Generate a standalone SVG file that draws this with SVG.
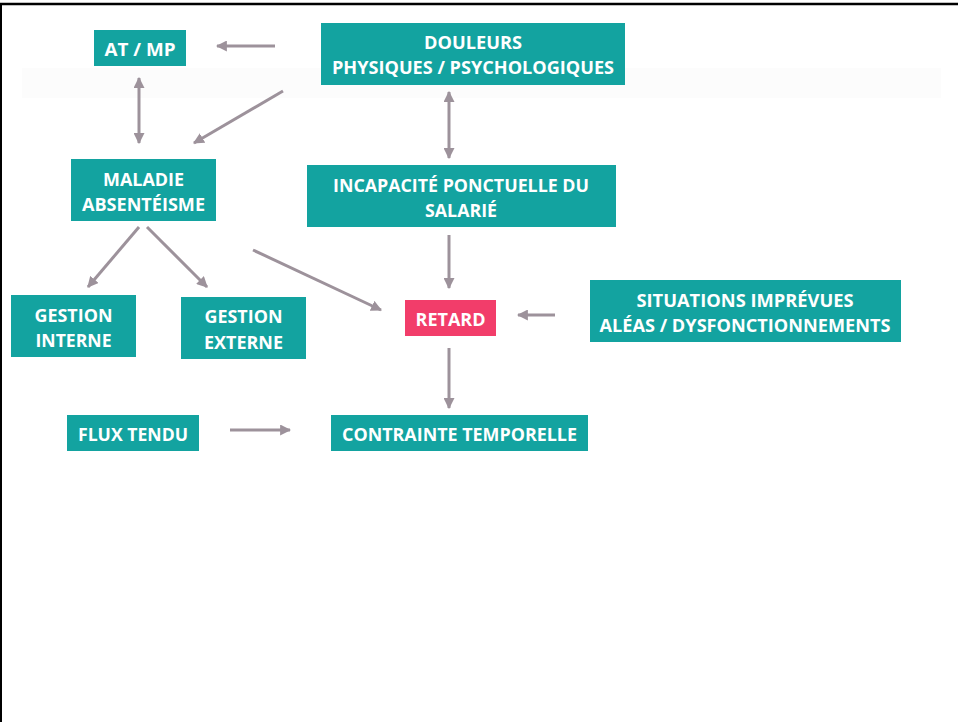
<svg xmlns="http://www.w3.org/2000/svg" width="958" height="722" viewBox="0 0 958 722">
  <style>
    .box { fill: #13a3a0; }
    .hot { fill: #f23d6a; }
    .lbl { font-family: "Open Sans", "Liberation Sans", sans-serif; font-weight: bold; font-size: 18px; fill: #ffffff; text-anchor: middle; }
    .link { stroke: #9d929b; stroke-width: 3; fill: none; marker-end: url(#tip); }
    .both { marker-start: url(#tipStart); }
  </style>
  <defs>
    <marker id="tip" viewBox="0 0 10 10" refX="9" refY="5" markerUnits="userSpaceOnUse" markerWidth="11" markerHeight="11" orient="auto">
      <path d="M0,0 L10,5 L0,10 z" fill="#9d929b"/>
    </marker>
    <marker id="tipStart" viewBox="0 0 10 10" refX="1" refY="5" markerUnits="userSpaceOnUse" markerWidth="11" markerHeight="11" orient="auto">
      <path d="M10,0 L0,5 L10,10 z" fill="#9d929b"/>
    </marker>
  </defs>

  <rect width="958" height="722" fill="#ffffff"/>
  <!-- frame edges -->
  <line x1="0" y1="4" x2="958" y2="4" stroke="#000" stroke-width="2.5"/>
  <line x1="1" y1="3" x2="1" y2="722" stroke="#000" stroke-width="2"/>
  <!-- faint band behind the top row -->
  <rect x="22" y="68" width="919" height="30" fill="#fcfcfc"/>

  <g id="connectors">
    <line class="link" x1="275" y1="46" x2="217" y2="46"/>
    <line class="link" x1="283" y1="91" x2="194" y2="143"/>
    <line class="link both" x1="139" y1="78" x2="139" y2="143"/>
    <line class="link both" x1="449" y1="92" x2="449" y2="158"/>
    <line class="link" x1="139" y1="227" x2="88" y2="287"/>
    <line class="link" x1="147" y1="227" x2="207" y2="287"/>
    <line class="link" x1="253" y1="250" x2="381" y2="310"/>
    <line class="link" x1="449" y1="235" x2="449" y2="288"/>
    <line class="link" x1="449" y1="348" x2="449" y2="408"/>
    <line class="link" x1="555" y1="315" x2="518" y2="315"/>
    <line class="link" x1="230" y1="430" x2="290" y2="430"/>
  </g>

  <g id="at-mp">
    <rect class="box" x="94" y="30" width="92" height="36"/>
    <text class="lbl" x="140" y="56" textLength="71" lengthAdjust="spacingAndGlyphs">AT / MP</text>
  </g>
  <g id="douleurs">
    <rect class="box" x="321" y="23" width="304" height="62"/>
    <text class="lbl" x="473" y="49" textLength="98" lengthAdjust="spacingAndGlyphs">DOULEURS</text>
    <text class="lbl" x="473" y="74" textLength="282" lengthAdjust="spacingAndGlyphs">PHYSIQUES / PSYCHOLOGIQUES</text>
  </g>
  <g id="maladie">
    <rect class="box" x="71" y="159" width="145" height="62"/>
    <text class="lbl" x="143.5" y="186" textLength="81" lengthAdjust="spacingAndGlyphs">MALADIE</text>
    <text class="lbl" x="143.5" y="211" textLength="123" lengthAdjust="spacingAndGlyphs">ABSENTÉISME</text>
  </g>
  <g id="incapacite">
    <rect class="box" x="307" y="165" width="309" height="62"/>
    <text class="lbl" x="461" y="192" textLength="256" lengthAdjust="spacingAndGlyphs">INCAPACITÉ PONCTUELLE DU</text>
    <text class="lbl" x="461" y="217" textLength="72" lengthAdjust="spacingAndGlyphs">SALARIÉ</text>
  </g>
  <g id="gestion-interne">
    <rect class="box" x="11" y="295" width="125" height="62"/>
    <text class="lbl" x="73.5" y="322" textLength="78" lengthAdjust="spacingAndGlyphs">GESTION</text>
    <text class="lbl" x="73.5" y="347" textLength="76" lengthAdjust="spacingAndGlyphs">INTERNE</text>
  </g>
  <g id="gestion-externe">
    <rect class="box" x="181" y="297" width="125" height="62"/>
    <text class="lbl" x="243.5" y="323" textLength="78" lengthAdjust="spacingAndGlyphs">GESTION</text>
    <text class="lbl" x="243.5" y="349" textLength="79" lengthAdjust="spacingAndGlyphs">EXTERNE</text>
  </g>
  <g id="retard">
    <rect class="hot" x="405" y="300" width="91" height="36"/>
    <text class="lbl" x="450.5" y="326" textLength="70" lengthAdjust="spacingAndGlyphs">RETARD</text>
  </g>
  <g id="situations">
    <rect class="box" x="590" y="280" width="311" height="62"/>
    <text class="lbl" x="745" y="307" textLength="217" lengthAdjust="spacingAndGlyphs">SITUATIONS IMPRÉVUES</text>
    <text class="lbl" x="745" y="332" textLength="291" lengthAdjust="spacingAndGlyphs">ALÉAS / DYSFONCTIONNEMENTS</text>
  </g>
  <g id="flux-tendu">
    <rect class="box" x="67" y="415" width="132" height="36"/>
    <text class="lbl" x="133" y="441" textLength="110" lengthAdjust="spacingAndGlyphs">FLUX TENDU</text>
  </g>
  <g id="contrainte">
    <rect class="box" x="331" y="415" width="257" height="36"/>
    <text class="lbl" x="459.5" y="441" textLength="235" lengthAdjust="spacingAndGlyphs">CONTRAINTE TEMPORELLE</text>
  </g>
</svg>
